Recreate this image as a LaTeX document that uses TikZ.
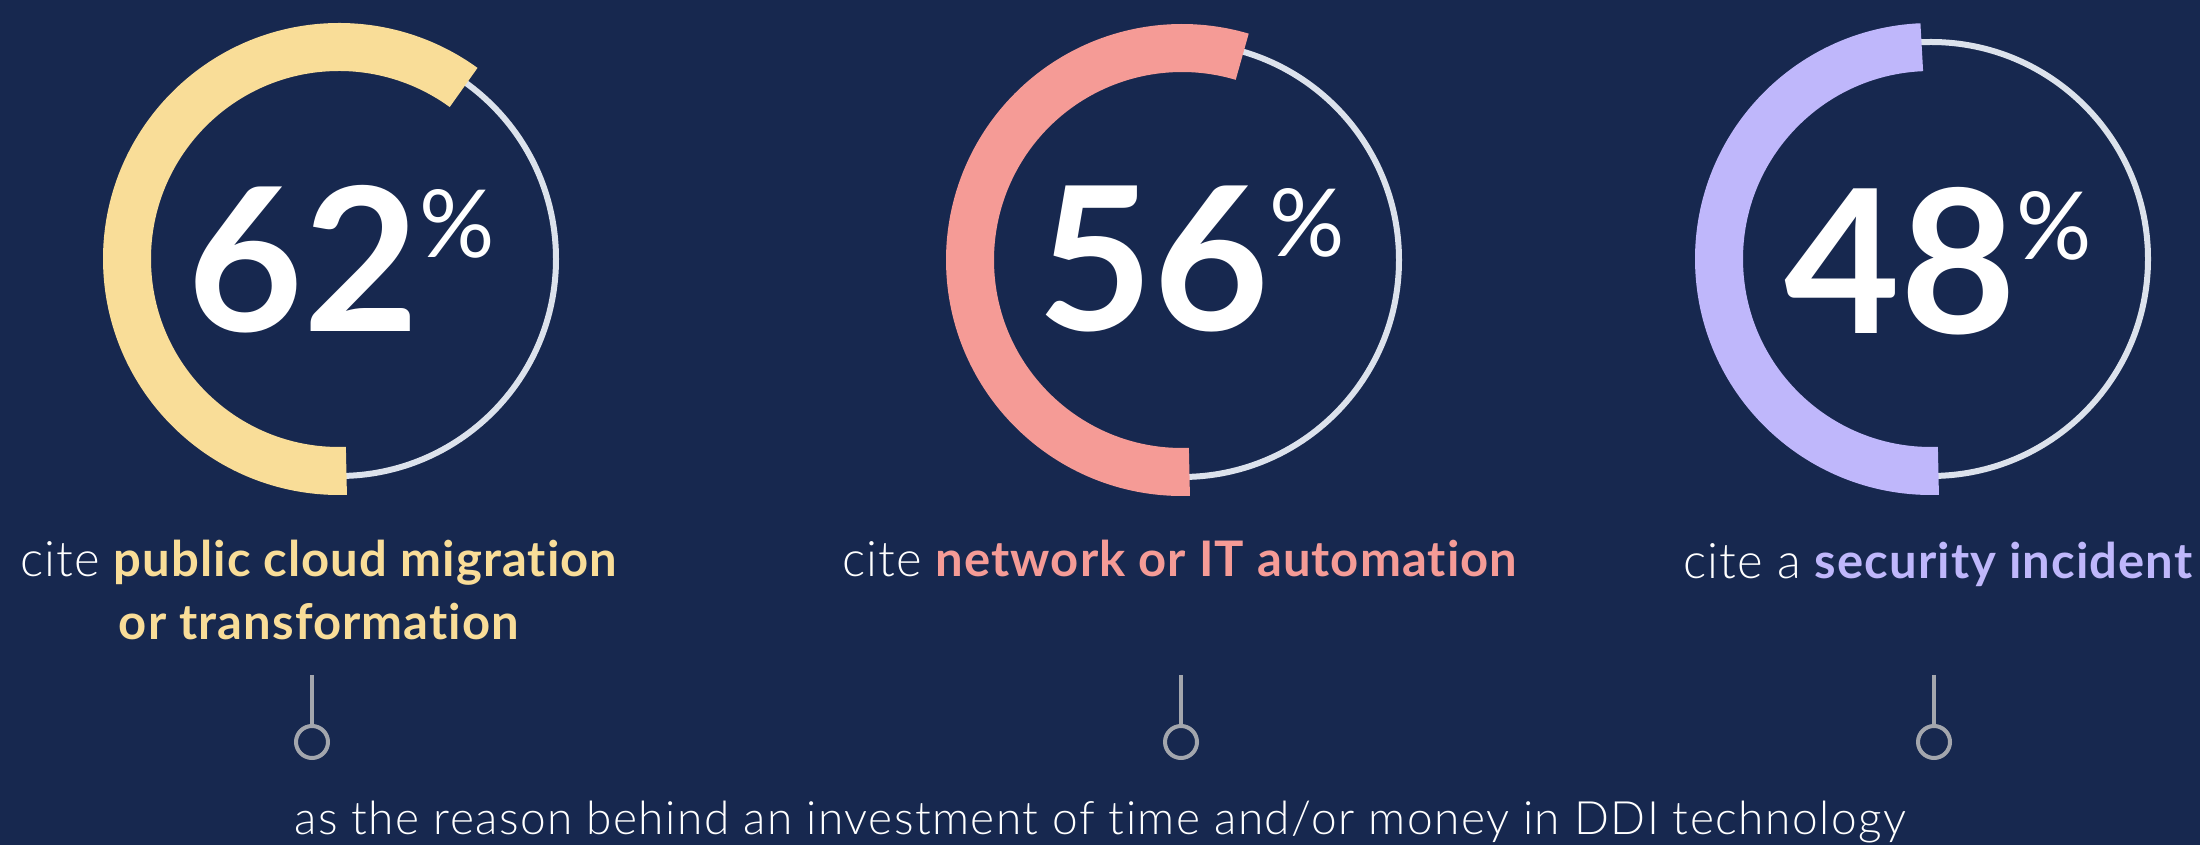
\documentclass[tikz,border=0pt]{standalone}
\usepackage{fontspec}
\setmainfont{Lato}[Ligatures=NoCommon, LetterSpace=2.2]
\newfontfamily\numfont{Lato}[Ligatures=NoCommon]
\IfFontExistsTF{Lato Light}{%
  \newfontfamily\lightfont{Lato Light}[Ligatures=NoCommon, LetterSpace=2.2]%
  \newfontfamily\reasonfont{Lato Light}[Ligatures=NoCommon, LetterSpace=3.2]}{%
  \newfontfamily\lightfont{Lato}[Ligatures=NoCommon, LetterSpace=2.2]%
  \newfontfamily\reasonfont{Lato}[Ligatures=NoCommon, LetterSpace=3.2]}
\usetikzlibrary{positioning}

\definecolor{navy}{HTML}{17284F}
\definecolor{ddiyellow}{HTML}{F9DD98}
\definecolor{ddipink}{HTML}{F59B96}
\definecolor{ddipurple}{HTML}{BFB7FB}
\definecolor{ringgray}{HTML}{DCE2EC}
\definecolor{pingray}{HTML}{A3A6AD}

\newcommand{\pct}{\kern0pt{\fontsize{47}{50}\selectfont\mdseries\raisebox{37pt}{\%}}}

\begin{document}
\begin{tikzpicture}[x=0.5pt, y=0.5pt,
  ring/.style={draw=ringgray, line width=3pt},
  band/.style={line width=24pt},
  numtext/.style={font=\numfont\fontsize{100}{106}\selectfont\bfseries, text=white, anchor=base, inner sep=0},
  lbl/.style={font=\fontsize{24.5}{30}\selectfont, text=white, anchor=base, inner sep=0},
  pinring/.style={circle, draw=pingray, line width=2pt, inner sep=0, minimum size=16pt},
  pin/.style={draw=pingray, line width=2pt}]

\fill[navy] (0,0) rectangle (2200,845);
\useasboundingbox (0,0) rectangle (2200,845);

% Rings
\coordinate (c62) at (339,586);
\coordinate (c56) at (1182,585);
\coordinate (c48) at (1931,586);
\draw[ring] (c62) circle[radius=217];
\draw[ring] (c56) circle[radius=217];
\draw[ring] (c48) circle[radius=217];

\draw[band, ddiyellow] (c62) ++(-88:212) arc[start angle=-88, end angle=-306, radius=212];
\draw[band, ddipink] (c56) ++(-88:212) arc[start angle=-88, end angle=-286.5, radius=212];
\draw[band, ddipurple] (c48) ++(-88:212) arc[start angle=-88, end angle=-267.5, radius=212];

% Percentages
\node[numtext] (num62) at (341,513) {62\pct};
\node[numtext] (num56) at (1191,514) {56\pct};
\node[numtext] (num48) at (1938,511) {48\pct};

% Reasons
\node[lbl] (cite62) at (319,268) {{\lightfont cite} \textcolor{ddiyellow}{\bfseries public cloud migration}};
\node[lbl] (cite62b) at (319,205) {\textcolor{ddiyellow}{\bfseries or transformation}};
\node[lbl] (cite56) at (1180,268) {{\lightfont cite} \textcolor{ddipink}{\bfseries network or IT automation}};
\node[lbl] (cite48) at (1938,266) {{\lightfont cite a} \textcolor{ddipurple}{\bfseries security incident}};

% Pins
\coordinate (top62) at (312,170);
\coordinate (top56) at (1181,170);
\coordinate (top48) at (1934,170);
\node[pinring] (ring62) at (312,103) {};
\node[pinring] (ring56) at (1181,103) {};
\node[pinring] (ring48) at (1934,103) {};
\draw[pin] (top62) -- (ring62.north);
\draw[pin] (top56) -- (ring56.north);
\draw[pin] (top48) -- (ring48.north);

\node[lbl, font=\fontsize{23}{28}\selectfont\reasonfont] (reason) at (1100,10) {as the reason behind an investment of time and/or money in DDI technology};
\end{tikzpicture}
\end{document}
